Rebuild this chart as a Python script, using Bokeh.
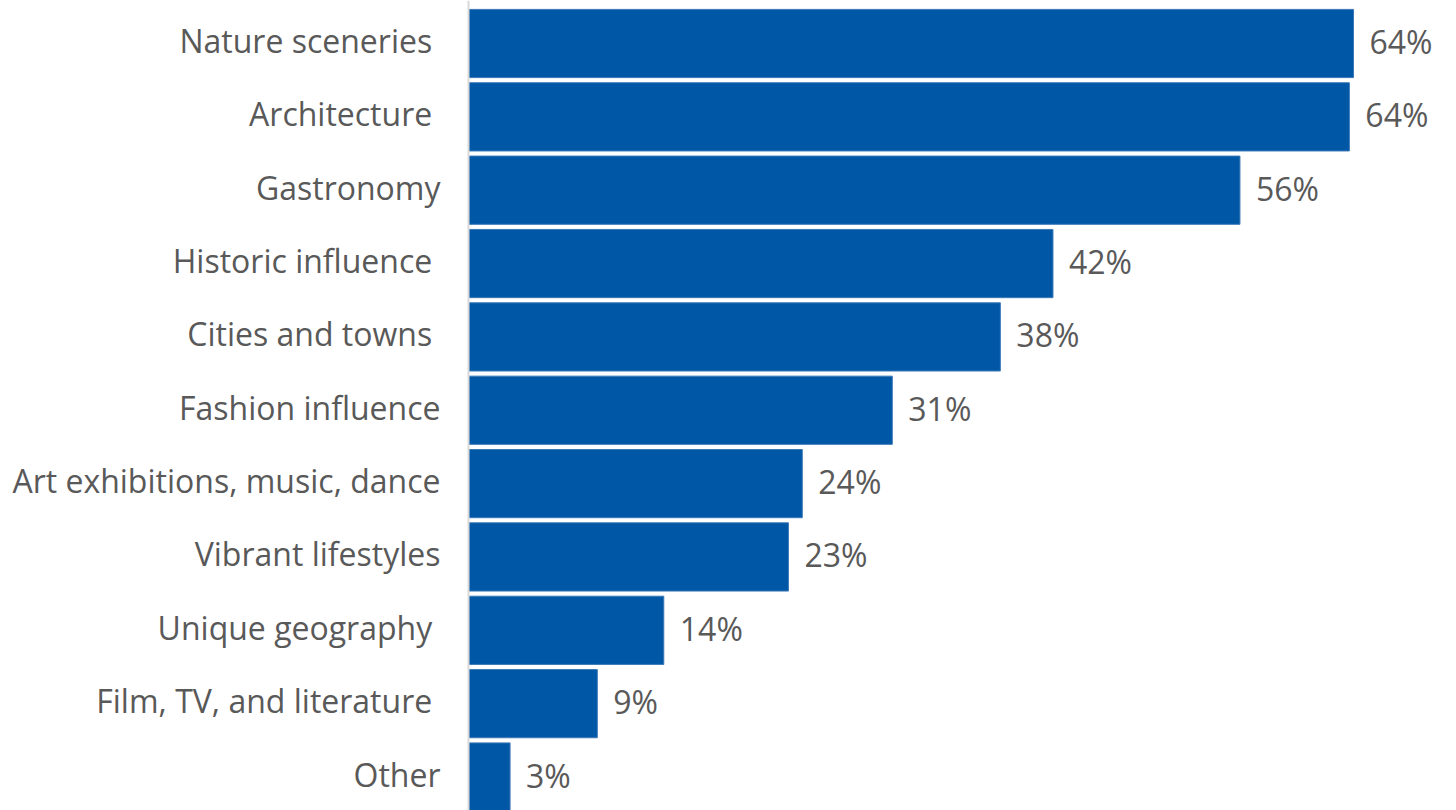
from bokeh.plotting import figure
from bokeh.models import ColumnDataSource, Range1d, Span
from bokeh.core.properties import value
from bokeh.embed import file_html
from bokeh.resources import INLINE

categories = ["Nature sceneries\u00a0", "Architecture\u00a0", "Gastronomy", "Historic influence\u00a0",
              "Cities and towns\u00a0", "Fashion influence", "Art exhibitions, music, dance",
              "Vibrant lifestyles", "Unique geography\u00a0", "Film, TV, and literature\u00a0", "Other"]
values = [63.9, 63.6, 55.7, 42.2, 38.4, 30.6, 24.1, 23.1, 14.1, 9.3, 3.0]
labels = ["64%", "64%", "56%", "42%", "38%", "31%", "24%", "23%", "14%", "9%", "3%"]

rows = list(range(len(categories)))
src = ColumnDataSource(dict(y=rows, v=values, cat=categories, lab=labels, zero=[0] * len(rows)))

W, H = 1456, 810
ppu = 13.85
left_px = 468
p = figure(width=W, height=H, output_backend="svg", toolbar_location=None,
           x_range=Range1d(-left_px / ppu, (W - left_px) / ppu),
           y_range=Range1d((H - 43) / 73.35, -43 / 73.35),
           min_border=0, outline_line_color=None, background_fill_color="white")
p.axis.visible = False
p.grid.visible = False

p.hbar(y="y", left="zero", right="v", height=0.93, source=src,
       fill_color="#0057A5", line_color="#3a78b8", line_width=1)

p.add_layout(Span(location=0, dimension="height", line_color="#d9d9d9", line_width=2))

font = value("Open Sans")
p.text(x="zero", y="y", text="cat", source=src, x_offset=-28, y_offset=-3, text_align="right",
       text_baseline="middle", text_font=font, text_font_size="32px", text_color="#595959")
p.text(x="v", y="y", text="lab", source=src, x_offset=16, y_offset=-2, text_align="left",
       text_baseline="middle", text_font=font, text_font_size="32px", text_color="#595959")

open("out.html", "w").write(file_html(p, INLINE))
